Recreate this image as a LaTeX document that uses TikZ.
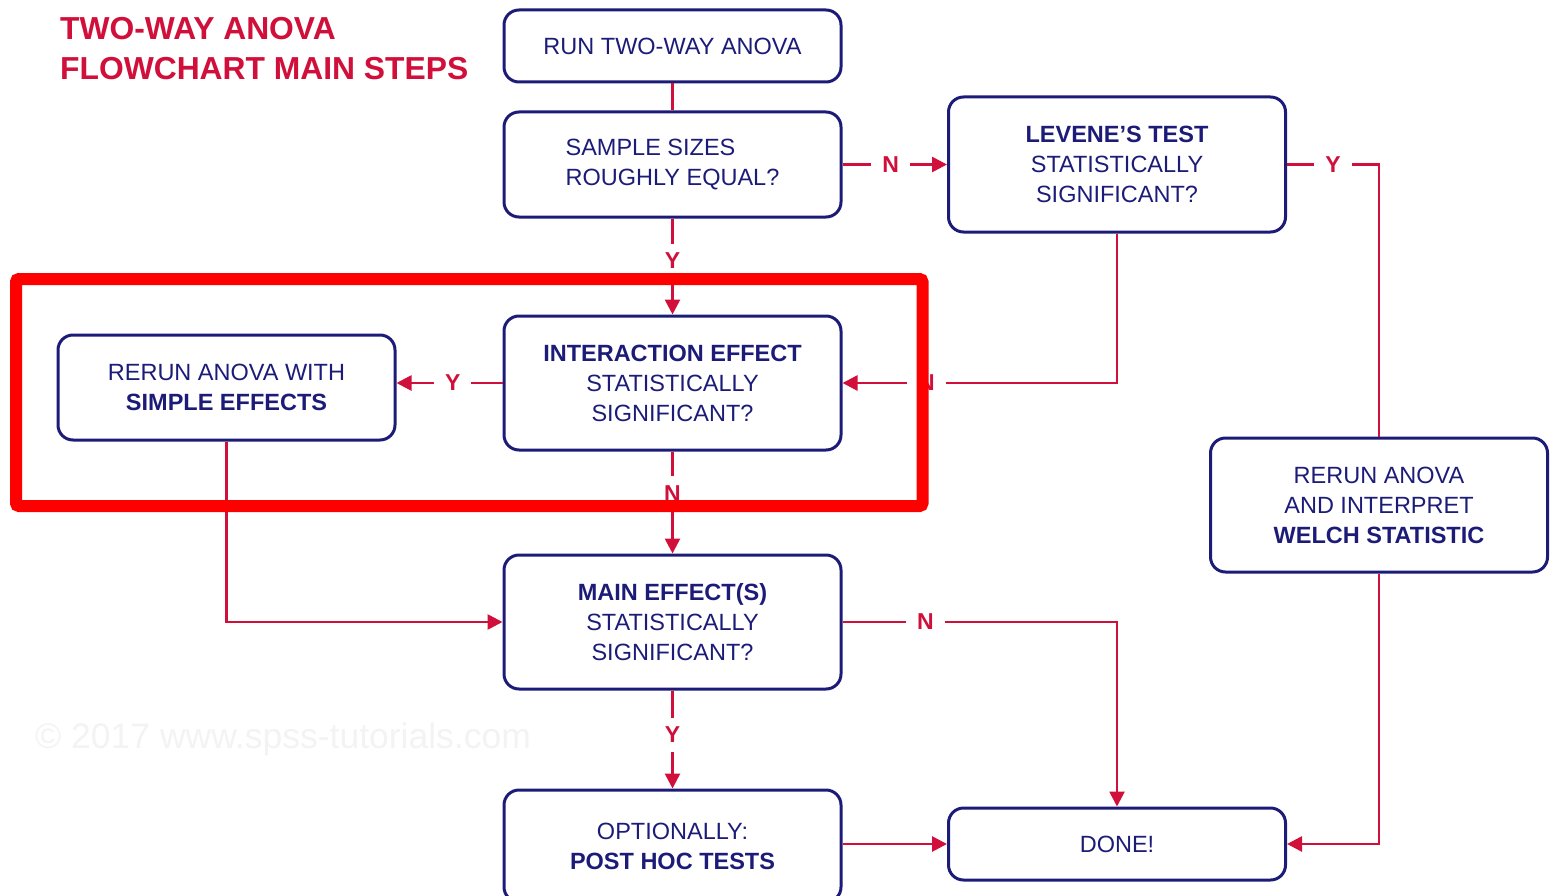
\documentclass[tikz,border=0pt]{standalone}
\usepackage{fontspec}
\setmainfont{Liberation Sans}
\usetikzlibrary{arrows.meta}
\definecolor{navy}{RGB}{28,28,120}
\definecolor{crim}{RGB}{208,16,58}
\definecolor{hired}{RGB}{255,0,0}
\definecolor{wmark}{RGB}{243,243,243}
\begin{document}
\begin{tikzpicture}[x=1pt,y=-1pt,
  box/.style={draw=navy, line width=3pt, rounded corners=15pt, minimum width=337pt,
    text=navy, font=\fontsize{23.5}{30}\selectfont, align=center, inner sep=0pt},
  conn/.style={draw=crim, line width=2.7pt},
  arr/.style={conn, -{Triangle[length=15pt,width=15pt]}},
  lab/.style={fill=white, text=crim, font=\bfseries\fontsize{23}{28}\selectfont, inner xsep=11pt, inner ysep=9pt},
  ttl/.style={anchor=base west, text=crim, font=\bfseries\fontsize{31.8}{36}\selectfont, inner sep=0pt}]
\useasboundingbox (0,0) rectangle (1554,896);
\clip (0,0) rectangle (1554,896);
% watermark
\node[anchor=base west, text=wmark, font=\fontsize{35.5}{40}\selectfont, inner sep=0pt] (wm) at (35,748) {© 2017 www.spss-tutorials.com};
% title
\node[ttl] (t1) at (60,40) {TWO-WAY ANOVA};
\node[ttl] (t2) at (60,80) {FLOWCHART MAIN STEPS};
% boxes
\node[box, minimum height=72pt] (run) at (672.5,46) {RUN TWO-WAY ANOVA};
\node[box, minimum height=105pt, align=left] (sample) at (672.5,164.5) {SAMPLE SIZES\\ROUGHLY EQUAL?};
\node[box, minimum height=135pt] (lev) at (1117,164.5) {\textbf{LEVENE'S TEST}\\STATISTICALLY\\SIGNIFICANT?};
\node[box, minimum height=134pt] (inter) at (672.5,383) {\textbf{INTERACTION EFFECT}\\STATISTICALLY\\SIGNIFICANT?};
\node[box, minimum height=105pt] (simple) at (226.5,387.5) {RERUN ANOVA WITH\\\textbf{SIMPLE EFFECTS}};
\node[box, minimum height=134pt] (main) at (672.5,622) {\textbf{MAIN EFFECT(S)}\\STATISTICALLY\\SIGNIFICANT?};
\node[box, minimum height=134pt] (welch) at (1379,505) {RERUN ANOVA\\AND INTERPRET\\\textbf{WELCH STATISTIC}};
\node[box, minimum height=112pt] (post) at (672.5,846) {OPTIONALLY:\\\textbf{POST HOC TESTS}};
\node[box, minimum height=72pt] (done) at (1117,844) {DONE!};
% connectors
\draw[conn] (run.south) -- (sample.north);
\draw[arr] (sample.south) -- node[lab, pos=.44] (ly1) {Y} (inter.north);
\draw[arr] (sample.east) -- node[lab, pos=.46] (ln1) {N} (lev.west);
\draw[conn] (lev.east) -| node[lab, pos=.25] (ly2) {Y} (welch.north);
\draw[arr] (lev.south) |- node[lab, pos=.847] (ln2) {N} (inter.east);
\draw[arr] (inter.west) -- node[lab, pos=.47] (ly3) {Y} (inter.west -| simple.east);
\draw[arr] (inter.south) -- node[lab, pos=.41] (ln3) {N} (main.north);
\draw[arr] (simple.south) |- (main.west);
\draw[arr] (main.east) -| node[lab, pos=.151] (ln4) {N} (done.north);
\draw[arr] (main.south) -- node[lab, pos=.45] (ly4) {Y} (post.north);
\draw[arr] (post.east |- done.west) -- (done.west);
\draw[arr] (welch.south) |- (done.east);
% highlight frame
\draw[hired, line width=12pt, rounded corners=3pt] (16,279) rectangle (922.5,506);
\end{tikzpicture}
\end{document}
